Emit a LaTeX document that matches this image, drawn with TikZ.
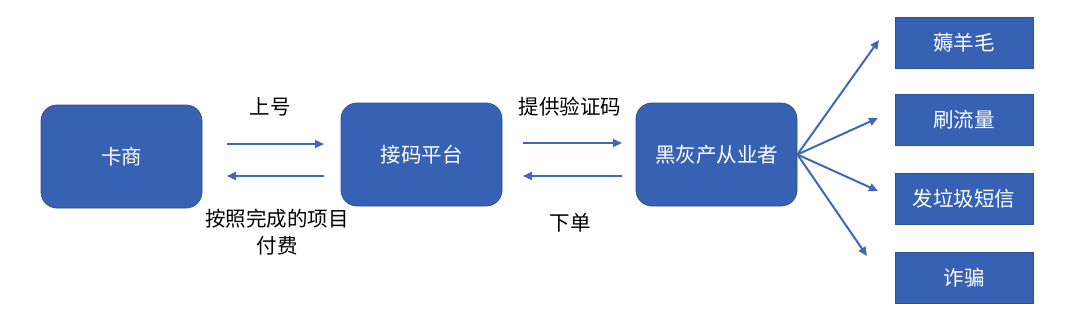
\documentclass[tikz,border=0pt]{standalone}
\usepackage{fontspec}
\newfontfamily\cjk{Noto Sans CJK SC}
\usetikzlibrary{arrows.meta}
\definecolor{boxblue}{HTML}{3762B4}
\definecolor{boxedge}{HTML}{2F528F}
\definecolor{arrowblue}{HTML}{3E68B8}
\tikzset{
  bigbox/.style={draw=boxedge, line width=0.8pt, fill=boxblue, rounded corners=16pt,
    minimum width=161pt, minimum height=103pt, text=white, font=\cjk\fontsize{20.5}{23}\selectfont, inner sep=0pt},
  smallbox/.style={draw=boxedge, line width=0.8pt, fill=boxblue,
    minimum width=138pt, minimum height=51pt, text=white, font=\cjk\fontsize{20.5}{23}\selectfont, inner sep=0pt},
  lbl/.style={text=black, font=\cjk\fontsize{20.5}{27}\selectfont, align=center, inner sep=0pt},
  arr/.style={draw=arrowblue, line width=2pt, -{Triangle[length=9pt,width=8pt]}},
}
\begin{document}
\begin{tikzpicture}[x=1pt,y=-1pt]
\useasboundingbox (0,0) rectangle (1080,317);
\node[bigbox] (ka) at (121.5,156.5) {卡商};
\node[bigbox] (jm) at (421.5,154.5) {接码平台};
\node[bigbox] (hh) at (716.5,154.5) {黑灰产从业者};
\node[smallbox] (r1) at (964,42.5) {薅羊毛};
\node[smallbox] (r2) at (964,120) {刷流量};
\node[smallbox] (r3) at (964,199) {发垃圾短信};
\node[smallbox] (r4) at (964,277.5) {诈骗};
\coordinate (a1s) at (227,144); \coordinate (a1e) at (324,144);
\coordinate (a2s) at (324,176); \coordinate (a2e) at (227,176);
\coordinate (b1s) at (523,143); \coordinate (b1e) at (622,143);
\coordinate (b2s) at (622,176); \coordinate (b2e) at (523,176);
\draw[arr] (a1s) -- (a1e);
\draw[arr] (a2s) -- (a2e);
\draw[arr] (b1s) -- (b1e);
\draw[arr] (b2s) -- (b2e);
\coordinate (f1) at (879,40);
\coordinate (f2) at (878,118);
\coordinate (f3) at (878,191);
\coordinate (f4) at (867,256);
\draw[arr] (hh.east) -- (f1);
\draw[arr] (hh.east) -- (f2);
\draw[arr] (hh.east) -- (f3);
\draw[arr] (hh.east) -- (f4);
\node[lbl] (l1) at (270,107) {上号};
\node[lbl] (l2) at (277,232) {按照完成的项目\\付费};
\node[lbl] (l3) at (570,107) {提供验证码};
\node[lbl] (l4) at (570,223) {下单};
\end{tikzpicture}
\end{document}
